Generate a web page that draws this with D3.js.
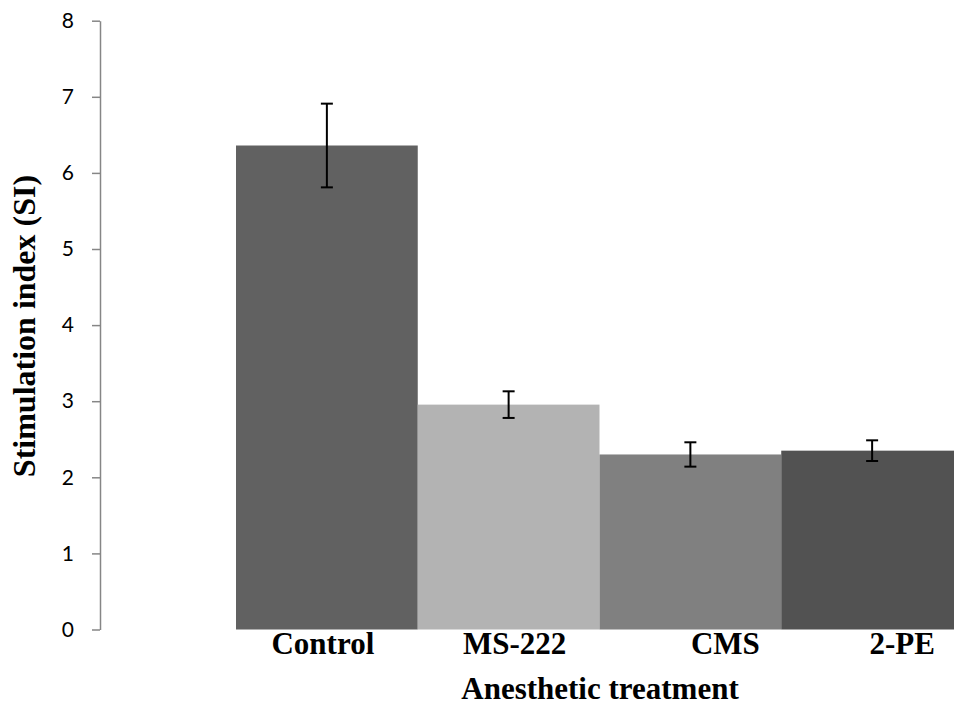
<!DOCTYPE html>
<html>
<head>
<meta charset="utf-8">
<script src="https://cdn.jsdelivr.net/npm/d3@7"></script>
<style>
  body { margin: 0; background: #fff; }
  .tick-label { font-family: Lato, "Open Sans", sans-serif; font-size: 21px; fill: #000; }
  .cat-label, .axis-title { font-family: "Liberation Serif", "Times New Roman", serif; font-weight: bold; fill: #000; }
</style>
</head>
<body>
<div class="chart"></div>
<script>
// chart data
var treatments = ["Control", "MS-222", "CMS", "2-PE"];
var siMeans = [6.36, 2.955, 2.30, 2.35];
var siErrors = [0.55, 0.175, 0.16, 0.136];
var barColors = ["#616161", "#b3b3b3", "#808080", "#525252"];
var yTicks = [0, 1, 2, 3, 4, 5, 6, 7, 8];

var svgWidth = 954;
var svgHeight = 705;

var svg = d3.select(".chart")
  .append("svg")
  .attr("width", svgWidth)
  .attr("height", svgHeight);

// scales
var yScale = d3.scaleLinear()
  .domain([0, 8])
  .range([629.5, 20.7]);

var xScale = d3.scaleBand()
  .domain(treatments)
  .range([236, 963])
  .padding(0);

// bars
svg.selectAll("rect.bar")
  .data(treatments)
  .enter()
  .append("rect")
  .attr("class", "bar")
  .attr("x", d => xScale(d))
  .attr("y", (d, i) => yScale(siMeans[i]))
  .attr("width", xScale.bandwidth())
  .attr("height", (d, i) => yScale(0) - yScale(siMeans[i]))
  .attr("fill", (d, i) => barColors[i]);

// error bars
var errGroup = svg.append("g")
  .attr("stroke", "#000")
  .attr("stroke-width", 2);

treatments.forEach(function (t, i) {
  var cx = xScale(t) + xScale.bandwidth() / 2;
  var top = yScale(siMeans[i] + siErrors[i]);
  var bot = yScale(siMeans[i] - siErrors[i]);
  errGroup.append("line").attr("x1", cx).attr("x2", cx).attr("y1", top).attr("y2", bot);
  errGroup.append("line").attr("x1", cx - 6).attr("x2", cx + 6).attr("y1", top).attr("y2", top);
  errGroup.append("line").attr("x1", cx - 6).attr("x2", cx + 6).attr("y1", bot).attr("y2", bot);
});

// y axis
var yAxis = svg.append("g")
  .attr("transform", "translate(100,0)")
  .call(d3.axisLeft(yScale).tickValues(yTicks).tickSize(8).tickSizeOuter(0).tickPadding(18));

yAxis.select(".domain").attr("stroke", "#868686").attr("stroke-width", 1.5);
yAxis.selectAll(".tick line").attr("stroke", "#868686").attr("stroke-width", 1.5);
yAxis.selectAll(".tick text")
  .attr("class", "tick-label")
  .attr("font-family", null)
  .attr("font-size", null);

// category labels (nudged like the original text boxes)
var labelShift = [-4, 6, 35, 30];
svg.selectAll("text.cat-label")
  .data(treatments)
  .enter()
  .append("text")
  .attr("class", "cat-label")
  .attr("x", (d, i) => xScale(d) + xScale.bandwidth() / 2 + labelShift[i])
  .attr("y", 654)
  .attr("text-anchor", "middle")
  .style("font-size", "31px")
  .text(d => d);

// axis titles
svg.append("text")
  .attr("class", "axis-title")
  .attr("x", 600)
  .attr("y", 699)
  .attr("text-anchor", "middle")
  .style("font-size", "31px")
  .text("Anesthetic treatment");

svg.append("text")
  .attr("class", "axis-title")
  .attr("transform", "translate(35,326) rotate(-90)")
  .attr("text-anchor", "middle")
  .style("font-size", "32px")
  .text("Stimulation index (SI)");
</script>
</body>
</html>
